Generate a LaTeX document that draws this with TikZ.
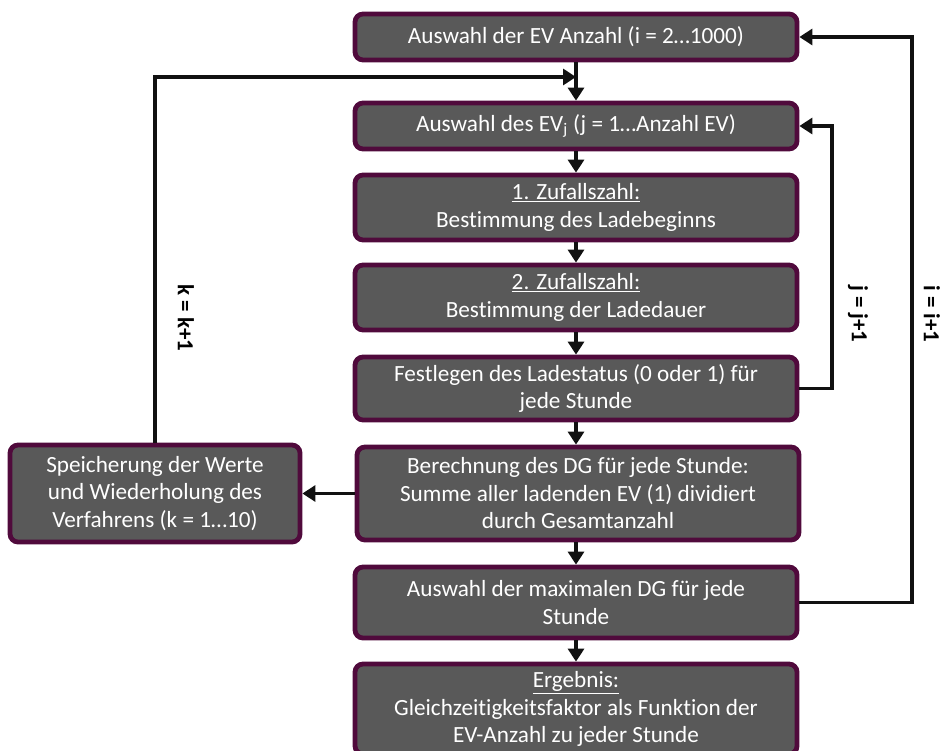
\documentclass[tikz,border=0pt]{standalone}
\usepackage{fontspec}
\setmainfont{Carlito}[Ligatures=NoCommon]
\usetikzlibrary{arrows.meta,calc}
\definecolor{boxfill}{HTML}{595959}
\definecolor{boxline}{HTML}{500A3C}
\definecolor{conn}{HTML}{111111}
\tikzset{
  flowbox/.style={draw=boxline, line width=4.8pt, fill=boxfill, rounded corners=8pt,
    text=white, align=center, inner sep=2pt,
    font=\fontsize{23.2}{27.5}\selectfont},
  conline/.style={draw=conn, line width=3.8pt},
  conarrow/.style={conline, -{Triangle[length=13pt,width=16pt]}},
  looplabel/.style={font=\bfseries\fontsize{23}{26}\selectfont, rotate=-90, text=black}
}
\begin{document}
\begin{tikzpicture}[x=1pt,y=-1pt]
\useasboundingbox (0,0) rectangle (944,751);
\node[flowbox, minimum width=442pt, minimum height=46pt] (b1) at (576,37) {Auswahl der EV Anzahl (i = 2…1000)};
\node[flowbox, minimum width=442pt, minimum height=46pt] (b2) at (576,126) {Auswahl des EV\textsubscript{j} (j = 1…Anzahl EV)};
\node[flowbox, minimum width=442pt, minimum height=65pt] (b3) at (576,207.5) {\underline{1. Zufallszahl:}\\Bestimmung des Ladebeginns};
\node[flowbox, minimum width=442pt, minimum height=65pt] (b4) at (576,297.5) {\underline{2. Zufallszahl:}\\Bestimmung der Ladedauer};
\node[flowbox, minimum width=442pt, minimum height=63pt] (b5) at (576,388.5) {Festlegen des Ladestatus (0 oder 1) für\\jede Stunde};
\node[flowbox, minimum width=442pt, minimum height=93pt] (b6) at (578,493.5) {Berechnung des DG für jede Stunde:\\Summe aller ladenden EV (1) dividiert\\durch Gesamtanzahl};
\node[flowbox, minimum width=442pt, minimum height=71pt] (b7) at (576,602.5) {Auswahl der maximalen DG für jede\\Stunde};
\node[flowbox, minimum width=442pt, minimum height=90pt] (b8) at (576,709) {\underline{Ergebnis:}\\Gleichzeitigkeitsfaktor als Funktion der\\EV-Anzahl zu jeder Stunde};
\node[flowbox, minimum width=290pt, minimum height=97pt] (lb) at (155,493.5) {Speicherung der Werte\\und Wiederholung des\\Verfahrens (k = 1…10)};

\draw[conarrow] (b1.south) -- (b2.north);
\draw[conarrow] (b2.south) -- (b3.north);
\draw[conarrow] (b3.south) -- (b4.north);
\draw[conarrow] (b4.south) -- (b5.north);
\draw[conarrow] (b5.south) -- (b5.south |- b6.north);
\draw[conarrow] (b7.north |- b6.south) -- (b7.north);
\draw[conarrow] (b7.south) -- (b8.north);
\draw[conarrow] (b6.west) -- (lb.east);

\coordinate (kend) at (576,77);
\draw[conarrow] (lb.north) |- (kend);

\coordinate (jtop) at (832,126);
\coordinate (jbot) at (832,388.5);
\draw[conarrow] (b5.east) -- (jbot) -- (jtop) -- (b2.east);

\coordinate (itop) at (912,37);
\coordinate (ibot) at (912,602.5);
\draw[conarrow] (b7.east) -- (ibot) -- (itop) -- (b1.east);

\node[looplabel] (kl) at (186,318) {k = k+1};
\node[looplabel] (jl) at (858,314) {j = j+1};
\node[looplabel] (il) at (932,314) {i = i+1};
\end{tikzpicture}
\end{document}
